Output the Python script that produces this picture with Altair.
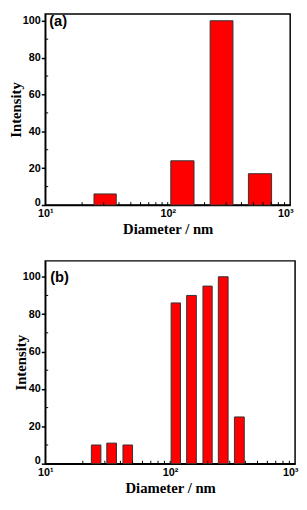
import altair as alt
import pandas as pd

# Panel (a)
a_left = [25, 106, 222, 456]
a_right = [38, 164, 341, 705]
a_int = [6, 24, 100, 17]

# Panel (b)
b_left = [23.4, 31.1, 41.9, 101.8, 135.5, 183, 243, 327]
b_right = [27.9, 37.2, 50, 121, 162, 217, 291, 392]
b_int = [10, 11, 10, 86, 90, 95, 100, 25]

y_major = [0, 20, 40, 60, 80, 100]
y_minor = [10, 30, 50, 70, 90]
x_major = [10, 100, 1000]
x_minor = [20, 30, 40, 50, 60, 70, 80, 90, 100, 200, 300, 400, 500, 600, 700, 800, 900]

XTITLE = "Diameter / nm"
YTITLE = "Intensity"
SANS = "Liberation Sans"
SERIF = "Liberation Serif"


def panel(left, right, inten, label, w, h, ytop, title_pad, label_x):
    df = pd.DataFrame({"left": left, "right": right, "intensity": inten})
    xs = alt.Scale(type="log", domain=[10, 1000], nice=False)
    ys = alt.Scale(domain=[0, ytop], nice=False, zero=True)
    xaxis = alt.Axis(
        values=x_major, tickCount=10,
        labelExpr="datum.value == 10 ? '10¹' : (datum.value == 100 ? '10²' : '10³')",
        labelOffset={"condition": {"test": "datum.value == 1000", "value": -5}, "value": 0},
        ticks=False, grid=False, domainColor="black", domainWidth=1.5,
        labelFont=SANS, labelFontWeight="bold", labelFontSize=11, labelColor="black",
        labelPadding=3, labelFlush=False, labelOverlap=False,
        titleFont=SERIF, titleFontWeight="bold", titleFontSize=15, titleColor="black",
        titlePadding=3,
    )
    yaxis = alt.Axis(
        values=y_major, tickCount=20, tickSize=4, tickColor="black", tickWidth=1.5, grid=False,
        domainColor="black", domainWidth=1.5,
        labelFont=SANS, labelFontWeight="bold", labelFontSize=11, labelColor="black",
        labelPadding=1, labelOverlap=False,
        labelOffset={"condition": {"test": "datum.value == 0", "value": -3}, "value": 0},
        titleFont=SERIF, titleFontWeight="bold", titleFontSize=15, titleColor="black",
        titlePadding=title_pad,
    )
    bars = alt.Chart(df).mark_bar(fill="#ff0000", stroke="#333333", strokeWidth=1).encode(
        x=alt.X("left:Q", scale=xs, axis=xaxis, title=XTITLE),
        x2="right:Q",
        y=alt.Y("intensity:Q", scale=ys, axis=yaxis, title=YTITLE),
        y2=alt.datum(0),
    )
    xmin = alt.Chart(pd.DataFrame({"pos": x_minor})).mark_rule(color="black", strokeWidth=1).encode(
        x=alt.X("pos:Q", scale=xs, title=XTITLE),
        y=alt.value(h),
        y2=alt.value(h - 3),
    )
    ymin = alt.Chart(pd.DataFrame({"v": y_minor})).mark_rule(color="black", strokeWidth=1).encode(
        y=alt.Y("v:Q", scale=ys, title=YTITLE),
        x=alt.value(0),
        x2=alt.value(3),
    )
    txt = alt.Chart(pd.DataFrame({"t": [label], "v": [100]})).mark_text(
        font=SANS, fontWeight="bold", fontSize=15, align="left", baseline="middle", color="black"
    ).encode(
        text="t:N",
        x=alt.value(label_x),
        y=alt.Y("v:Q", scale=ys, title=YTITLE),
    )
    return alt.layer(bars, xmin, ymin, txt).properties(width=w, height=h)


pa = panel(a_left, a_right, a_int, "(a)", 250, 195, 103.7, -1.3, 4)
pb = panel(b_left, b_right, b_int, "(b)", 255, 207, 108.5, -6.3, 5)

chart = alt.concat(pa, pb, columns=1, align="none", spacing=23).properties(
    padding=0, background="white"
).configure_view(stroke="black", strokeWidth=1.5)

chart.save("out.html", embed_options={"renderer": "svg", "actions": False})
